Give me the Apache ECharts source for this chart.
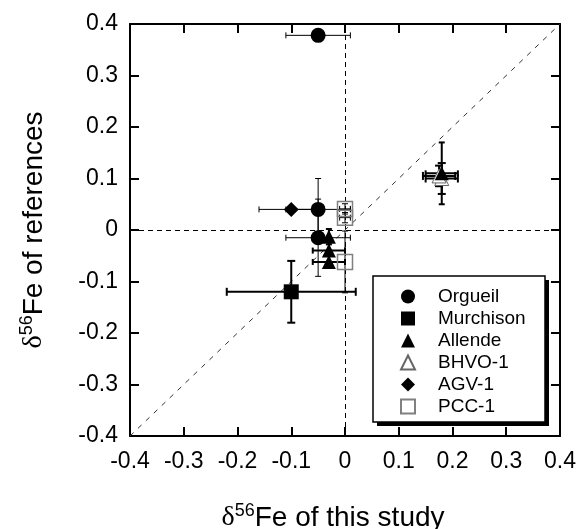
<!DOCTYPE html>
<html>
<head>
<meta charset="utf-8">
<script src="https://cdn.jsdelivr.net/npm/echarts@6/dist/echarts.min.js"></script>
<style>html,body{margin:0;padding:0;background:#fff}#c{width:582px;height:529px}</style>
</head>
<body>
<div id="c"></div>
<script>
// each row: [x, y, xErr, yErr]
var orgueil   = [[-0.05, 0.378, 0.06, 0], [-0.05, 0.04, 0.06, 0.06], [-0.05, -0.015, 0.06, 0.075]];
var murchison = [[-0.10, -0.12, 0.12, 0.06]];
var allende   = [[-0.03, -0.013, 0, 0.015], [-0.03, -0.04, 0.03, 0], [-0.03, -0.062, 0.03, 0], [0.18, 0.11, 0.03, 0.06]];
var bhvo1     = [[0.18, 0.10, 0.03, 0.03], [0.175, 0.105, 0.03, 0.02]];
var agv1      = [[-0.10, 0.04, 0.06, 0]];
var pcc1      = [[0.0, 0.041, 0.01, 0.01], [0.0, 0.024, 0.01, 0.01], [0.0, -0.062, 0, 0.06]];
var diagonal  = [[-0.4, -0.4], [0.4, 0.4]];
var axisMin = -0.4, axisMax = 0.4, axisStep = 0.1;

var FONT = 'Liberation Sans, Arial, sans-serif';
function pts(rows) { return rows.map(function (r) { return [r[0], r[1]]; }); }
function errRender(lw, cap) {
  return function (params, api) {
    var x = api.value(0), y = api.value(1), xe = api.value(2), ye = api.value(3);
    var ch = [], st = { stroke: '#000', lineWidth: lw };
    function seg(a, b) { ch.push({ type: 'line', shape: { x1: a[0], y1: a[1], x2: b[0], y2: b[1] }, style: st }); }
    if (xe > 0) {
      var a = api.coord([x - xe, y]), b = api.coord([x + xe, y]);
      seg(a, b);
      seg([a[0], a[1] - cap], [a[0], a[1] + cap]);
      seg([b[0], b[1] - cap], [b[0], b[1] + cap]);
    }
    if (ye > 0) {
      var c = api.coord([x, y - ye]), d = api.coord([x, y + ye]);
      seg(c, d);
      seg([c[0] - cap, c[1]], [c[0] + cap, c[1]]);
      seg([d[0] - cap, d[1]], [d[0] + cap, d[1]]);
    }
    return { type: 'group', children: ch };
  };
}
function errSeries(name, rows, lw, cap) {
  return { name: name + ' err', type: 'custom', data: rows, encode: { x: 0, y: 1 },
    renderItem: errRender(lw, cap), z: 3, silent: true };
}
function scat(name, rows, symbol, size, style) {
  return { name: name, type: 'scatter', data: pts(rows), symbol: symbol, symbolSize: size,
    itemStyle: style, z: 5, silent: true };
}

var chart = echarts.init(document.getElementById('c'), null, { renderer: 'canvas' });
var axisCommon = {
  type: 'value', min: axisMin, max: axisMax, interval: axisStep,
  splitLine: { show: false },
  axisLine: { show: true, onZero: false, lineStyle: { color: '#000', width: 2 } },
  axisTick: { show: true, inside: true, length: 9, lineStyle: { color: '#000', width: 2 } }
};
function ax(extra) { return Object.assign({}, axisCommon, extra); }
var labelStyle = { color: '#000', fontFamily: FONT, fontSize: 23 };
var richTitle = {
  d: { fontFamily: 'Liberation Serif, serif', fontSize: 28, color: '#000' },
  s: { fontFamily: FONT, fontSize: 18, color: '#000', padding: [0, 0, 14, 0] },
  t: { fontFamily: FONT, fontSize: 28, color: '#000' }
};

chart.setOption({
  animation: false,
  backgroundColor: '#fff',
  grid: { left: 130, right: 22, top: 24, bottom: 93, outerBoundsMode: 'none', containLabel: false },
  xAxis: [
    ax({ position: 'bottom', axisLabel: Object.assign({ margin: 14 }, labelStyle),
      name: '{d|δ}{s|56}{t|Fe of this study}', nameLocation: 'middle', nameGap: 66,
      nameTextStyle: { rich: richTitle, padding: [0, 24, 0, 0] } }),
    ax({ position: 'top', axisLabel: { show: false } })
  ],
  yAxis: [
    ax({ position: 'left', axisLabel: Object.assign({ margin: 12 }, labelStyle),
      name: '{d|δ}{s|56}{t|Fe of references}', nameLocation: 'middle', nameGap: 80, nameRotate: 90,
      nameTextStyle: { rich: richTitle } }),
    ax({ position: 'right', axisLabel: { show: false } })
  ],
  graphic: [
    { type: 'rect', z: 1, shape: { x: 377, y: 280, width: 172, height: 146 }, style: { fill: '#000' } },
    { type: 'rect', z: 1, shape: { x: 373, y: 276, width: 172, height: 146 },
      style: { fill: '#fff', stroke: '#000', lineWidth: 1.5 } }
  ],
  legend: {
    orient: 'vertical', left: 373, top: 276, z: 10,
    data: ['Orgueil', 'Murchison', 'Allende', 'BHVO-1', 'AGV-1', 'PCC-1'],
    itemWidth: 14, itemHeight: 14, itemGap: 3,
    padding: [11, 20, 11, 27],
    formatter: function (n) { return '{t|' + n + '}'; },
    textStyle: { rich: { t: { fontFamily: FONT, fontSize: 19, color: '#000', padding: [0, 0, 0, 18] } } },
    selectedMode: false
  },
  series: [
    { name: 'diag', type: 'line', data: diagonal, symbol: 'none', silent: true, z: 1,
      lineStyle: { color: '#333', width: 1, type: [5, 6] },
      markLine: { silent: true, symbol: 'none', label: { show: false },
        lineStyle: { color: '#000', width: 1, type: [5, 4] },
        data: [{ xAxis: 0 }, { yAxis: 0 }] } },
    errSeries('Orgueil', orgueil, 1, 3),
    errSeries('Murchison', murchison, 2, 4),
    errSeries('Allende', allende, 2, 3),
    errSeries('BHVO-1', bhvo1, 2, 4),
    errSeries('AGV-1', agv1, 1, 3),
    errSeries('PCC-1', pcc1, 1, 3),
    scat('Orgueil', orgueil, 'circle', 15, { color: '#000', opacity: 1 }),
    scat('Murchison', murchison, 'rect', 15, { color: '#000', opacity: 1 }),
    scat('BHVO-1', bhvo1, 'triangle', 14, { color: '#fff', borderColor: '#666', borderWidth: 1, opacity: 1 }),
    scat('Allende', allende, 'triangle', 14, { color: '#000', opacity: 1 }),
    scat('AGV-1', agv1, 'diamond', 15, { color: '#000', opacity: 1 }),
    scat('PCC-1', pcc1, 'rect', 15, { color: 'rgba(0,0,0,0)', borderColor: '#808080', borderWidth: 1.5, opacity: 1 })
  ]
});
</script>
</body>
</html>
